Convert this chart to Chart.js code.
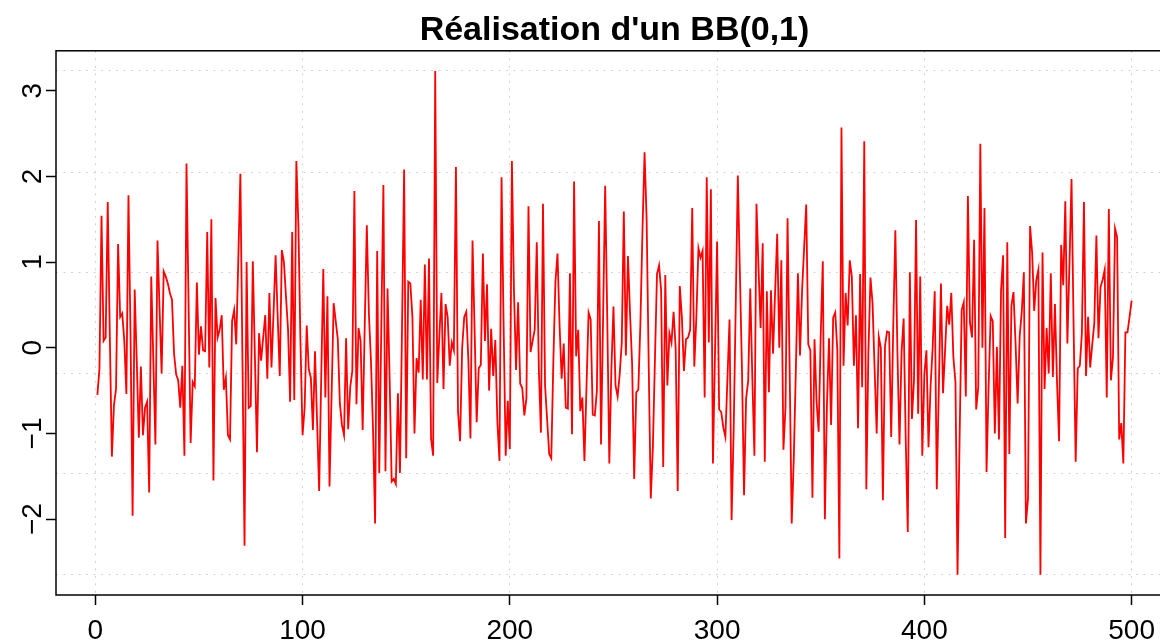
<!DOCTYPE html>
<html>
<head>
<meta charset="utf-8">
<script src="https://cdn.jsdelivr.net/npm/chart.js@4.4.1/dist/chart.umd.min.js"></script>
<style>
  html, body { margin: 0; padding: 0; background: #fff; overflow: hidden; }
</style>
</head>
<body>
<canvas id="bb" width="1180" height="643"></canvas>
<script>
// realisation d'un bruit blanc (t = 1..500)
const titre = "Réalisation d'un BB(0,1)";
const bruit = [
  -0.55, -0.25, 1.54, 0.08, 0.12, 1.70, 0.15, -1.27, -0.67, -0.48, 1.21, 0.36, 0.40, 0.08, -0.54, 1.78, 0.15, -1.96, 0.68, -0.15,
  -1.05, -0.22, -1.02, -0.70, -0.63, -1.69, 0.83, -0.15, -1.13, 1.25, 0.46, -0.30, 0.89, 0.83, 0.75, 0.64, 0.56, -0.07, -0.31, -0.38,
  -0.70, -0.21, -1.26, 2.15, 0.52, -1.11, -0.40, -0.45, 0.76, -0.08, 0.25, -0.03, -0.04, 1.35, -0.23, 1.50, -1.55, 0.58, 0.12, 0.21,
  0.38, -0.49, -0.35, -1.02, -1.07, 0.31, 0.44, 0.04, 1.04, 2.03, -0.15, -2.31, 1.00, -0.70, -0.68, 1.01, -0.10, -1.22, 0.17, -0.15,
  0.12, 0.38, -0.36, 0.64, -0.23, 0.41, 1.08, 0.36, -0.33, 1.14, 1.00, 0.60, 0.21, -0.63, 1.35, -0.61, 2.18, 1.42, 0.05, -1.02,
  -0.70, 0.26, -0.25, -0.35, -0.96, -0.04, -0.86, -1.67, -0.35, 0.92, -0.58, 0.60, -1.62, -0.56, 0.52, 0.31, 0.10, -0.65, -0.90, -1.02,
  0.11, -0.95, -0.46, -0.27, 1.83, -0.66, 0.23, 0.08, -0.96, 0.26, 1.43, 0.40, -0.15, -0.96, -2.05, 1.13, -1.46, 0.26, 1.90, -1.44,
  0.69, -0.35, -1.56, -1.53, -1.59, -0.53, -1.46, 0.26, 2.08, -1.29, 0.77, 0.75, 0.36, -1.00, -0.12, -0.29, 0.56, -0.37, 0.97, -0.37,
  1.04, -1.06, -1.26, 3.23, -0.41, 0.14, 0.64, -0.48, 0.51, 0.36, -0.21, 0.06, -0.03, 2.11, -0.74, -1.09, 0.00, 0.36, 0.42, -0.15,
  -1.06, 1.25, 0.21, -0.87, -0.24, -0.20, 1.10, 0.08, 0.74, -0.50, 0.22, -0.33, 0.09, -0.87, -1.32, 1.99, 0.26, -1.26, -0.62, -1.18,
  2.18, 0.66, -0.26, 0.53, -0.42, -0.47, -0.79, -0.59, 1.65, -0.05, 0.08, 0.21, 1.23, -0.25, -0.99, 1.68, -0.44, -0.84, -1.24, -1.29,
  -0.15, 0.77, 1.10, 0.26, -0.36, 0.05, -0.70, -0.71, 0.87, -1.01, 1.94, -0.10, 0.21, -0.74, -0.58, -1.32, -0.45, 0.41, 0.33, -0.78,
  -0.79, -0.50, 1.48, -1.13, 0.36, 1.89, 0.36, -1.35, -0.25, 0.48, -0.44, -0.57, -0.31, 0.06, 1.59, -0.09, 1.07, 0.40, -0.19, -1.53,
  -0.52, -0.49, 0.29, 1.37, 2.28, 1.50, -0.19, -1.76, -1.17, -0.15, 0.86, 0.96, 0.67, -1.39, 0.85, -0.44, 0.17, 0.06, 0.42, 0.00,
  -1.67, 0.72, 0.36, -0.27, 0.10, 0.12, 0.21, 1.63, -0.22, 0.36, 1.16, 1.05, 1.13, -0.58, 1.99, 0.06, 1.85, -1.35, -0.05, 1.24,
  -0.72, -0.75, -0.93, -1.04, -0.35, 0.33, -2.01, -0.96, 0.51, 2.01, 0.87, -0.25, -1.72, -0.59, -0.39, 0.69, -0.35, -1.26, 1.68, 0.92,
  0.23, 1.22, -1.33, 0.66, -0.52, 0.67, -0.07, 0.66, 1.33, 0.00, 1.02, -1.19, -0.70, 1.51, -0.25, -2.05, -1.29, -0.25, 0.87, -0.09,
  0.67, 1.17, 1.67, 0.04, -0.03, -1.75, 0.10, -0.63, -0.98, 0.15, 1.01, -2.00, -0.66, 0.11, -0.90, 0.35, 0.41, -0.03, -2.46, 2.57,
  -0.21, 0.64, 0.26, 1.02, 0.83, -0.21, 0.38, -0.94, 0.86, -0.46, 2.41, -1.65, -0.05, 0.82, 0.52, -0.25, -1.00, 0.13, 0.00, -1.78,
  0.02, 0.19, 0.18, -1.04, 0.26, 1.37, -0.05, -1.13, -0.05, 0.34, -1.06, -2.15, 0.88, -0.83, -0.38, 1.49, -0.77, 0.83, -1.26, -0.31,
  -0.03, -1.16, -0.45, 0.00, 0.66, -1.65, -0.45, 0.75, -0.53, -0.03, 0.49, 0.27, 0.64, -0.11, -0.40, -2.65, -1.06, 0.44, 0.53, -0.57,
  1.77, 0.29, 0.12, 1.26, -0.72, -0.46, 2.38, 0.00, 1.63, -1.45, -0.45, 0.37, 0.31, -1.00, 0.01, -1.07, 0.67, 1.08, -2.22, 1.23,
  -1.24, 0.49, 0.65, 0.05, -0.65, 0.14, 0.42, 0.88, -2.05, -1.76, 1.42, 1.11, 0.43, 0.79, 0.91, -2.65, 1.11, -0.48, 0.23, -0.30,
  0.87, -0.34, 0.51, -0.40, -1.09, 1.20, 0.73, 1.71, 0.05, 0.97, 1.97, 0.26, -1.33, -0.24, -0.21, 0.17, 1.70, -0.33, 0.36, -0.23,
  0.04, 0.29, 1.31, 0.11, 0.71, 0.79, 0.91, -0.58, 1.62, -0.38, -0.11, 1.39, 1.29, -1.07, -0.88, -1.35, 0.18, 0.18, 0.36, 0.55
];
const ticksX = [0, 100, 200, 300, 400, 500];
const ticksY = [-2, -1, 0, 1, 2, 3];
const grilleY = [-2.65, -1.47, -0.30, 0.88, 2.05, 3.23];

const police = "'Liberation Sans', Arial, Helvetica, sans-serif";
const gris = '#d3d3d3';

// axe y : etiquettes tournees comme dans R
const etiquettesY = {
  id: 'etiquettesY',
  afterDraw(chart) {
    const ctx = chart.ctx;
    const y = chart.scales.y;
    const area = chart.chartArea;
    ctx.save();
    ctx.strokeStyle = '#000';
    ctx.lineWidth = 1.5;
    ctx.strokeRect(area.left, area.top, area.right - area.left, area.bottom - area.top);
    ctx.fillStyle = '#000';
    ctx.font = '28px ' + police;
    ctx.textAlign = 'center';
    ctx.textBaseline = 'alphabetic';
    ticksY.forEach(v => {
      ctx.save();
      ctx.translate(41, y.getPixelForValue(v));
      ctx.rotate(-Math.PI / 2);
      ctx.fillText(v < 0 ? '\u2212' + Math.abs(v) : String(v), 0, 0);
      ctx.restore();
    });
    ctx.restore();
  }
};

const ctx = document.getElementById('bb').getContext('2d');
new Chart(ctx, {
  type: 'line',
  data: {
    datasets: [{
      data: bruit.map((v, i) => ({ x: i + 1, y: v })),
      borderColor: '#ff0000',
      borderWidth: 1.8,
      pointRadius: 0,
      tension: 0,
      fill: false,
      xAxisID: 'x',
      yAxisID: 'y'
    }]
  },
  options: {
    responsive: false,
    animation: false,
    devicePixelRatio: 1,
    layout: { padding: { left: 0, right: 7, top: 0, bottom: 0 } },
    plugins: {
      legend: { display: false },
      tooltip: { enabled: false },
      title: {
        display: true,
        fullSize: false,
        text: titre,
        color: '#000',
        font: { family: police, size: 34, weight: 'bold', lineHeight: 1.2 },
        padding: { top: 10, bottom: 0 }
      }
    },
    scales: {
      x: {
        type: 'linear',
        min: -18.96,
        max: 519.96,
        afterBuildTicks: s => { s.ticks = ticksX.map(v => ({ value: v })); },
        afterFit: s => { s.height = 48; },
        grid: { color: gris, lineWidth: 1, tickColor: '#000', tickLength: 10, tickWidth: 1.5 },
        border: { display: false, dash: [2, 5.5] },
        ticks: { color: '#000', font: { family: police, size: 28 }, padding: 9, maxRotation: 0 }
      },
      y: {
        type: 'linear',
        position: 'left',
        min: -2.885,
        max: 3.465,
        afterBuildTicks: s => { s.ticks = ticksY.map(v => ({ value: v })); },
        afterFit: s => { s.width = 56; },
        grid: { drawOnChartArea: false, tickColor: '#000', tickLength: 10, tickWidth: 1.5 },
        border: { display: false },
        ticks: { display: false }
      },
      grille: {
        type: 'linear',
        position: 'left',
        min: -2.885,
        max: 3.465,
        afterBuildTicks: s => { s.ticks = grilleY.map(v => ({ value: v })); },
        afterFit: s => { s.width = 0; },
        grid: { color: gris, lineWidth: 1, drawTicks: false },
        border: { display: false, dash: [2, 5.5] },
        ticks: { display: false }
      }
    }
  },
  plugins: [etiquettesY]
});
</script>
</body>
</html>
